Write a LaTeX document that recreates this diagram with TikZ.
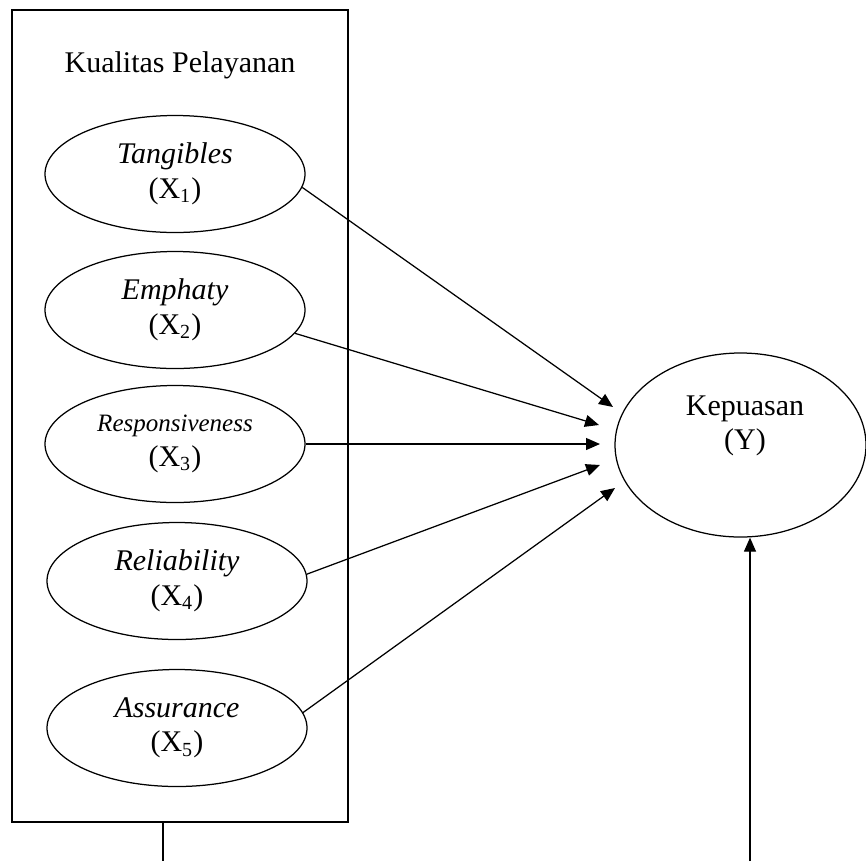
\documentclass[tikz,border=0pt]{standalone}
\usepackage{fontspec}
\setmainfont{Liberation Serif}
\usetikzlibrary{arrows.meta,shapes.geometric}
\begin{document}
\begin{tikzpicture}[x=0.4pt,y=-0.4pt,
  teks/.style={align=center,font=\fontsize{12}{13.8}\selectfont},
  latent/.style={ellipse,draw=black,line width=0.5pt,minimum width=104pt,minimum height=46.8pt,inner sep=0pt,teks},
  jalur/.style={-{Triangle[length=5.6pt,width=4.8pt]},line width=0.5pt}]
\useasboundingbox (0,0) rectangle (866,861);
\node[draw=black,line width=0.5pt,minimum width=134.4pt,minimum height=324.8pt,inner sep=0pt] (kualitas) at (180,416) {};
\node[teks] (judul) at (180,65) {Kualitas Pelayanan};
\node[latent] (x1) at (175,174) {\textit{Tangibles}\\(X\textsubscript{1})};
\node[latent] (x2) at (175,310) {\textit{Emphaty}\\(X\textsubscript{2})};
\node[latent] (x3) at (175,444) {{\fontsize{10}{12}\selectfont\textit{Responsiveness}}\\(X\textsubscript{3})};
\node[latent] (x4) at (177,581) {\textit{Reliability}\\(X\textsubscript{4})};
\node[latent] (x5) at (177,728) {\textit{Assurance}\\(X\textsubscript{5})};
\node[ellipse,draw=black,line width=0.5pt,minimum width=100.4pt,minimum height=73.6pt,inner sep=0pt] (y) at (740.5,445) {};
\node[teks] (ylabel) at (745,426) {Kepuasan\\(Y)};
\coordinate (k1) at (613,407);
\coordinate (k2) at (599,425);
\coordinate (k3) at (600,444);
\coordinate (k4) at (600,465);
\coordinate (k5) at (615,488);
\draw[jalur] (x1.-6) -- (k1);
\draw[jalur] (x2.-11) -- (k2);
\draw[jalur] (x3.east) -- (k3);
\draw[jalur] (x4.3) -- (k4);
\draw[jalur] (x5.7) -- (k5);
\coordinate (kaki) at (163,861);
\draw[line width=0.5pt] (kualitas.south -| kaki) -- (kaki);
\coordinate (dasar) at (750,861);
\draw[jalur] (dasar) -- (y.south -| dasar);
\end{tikzpicture}
\end{document}
